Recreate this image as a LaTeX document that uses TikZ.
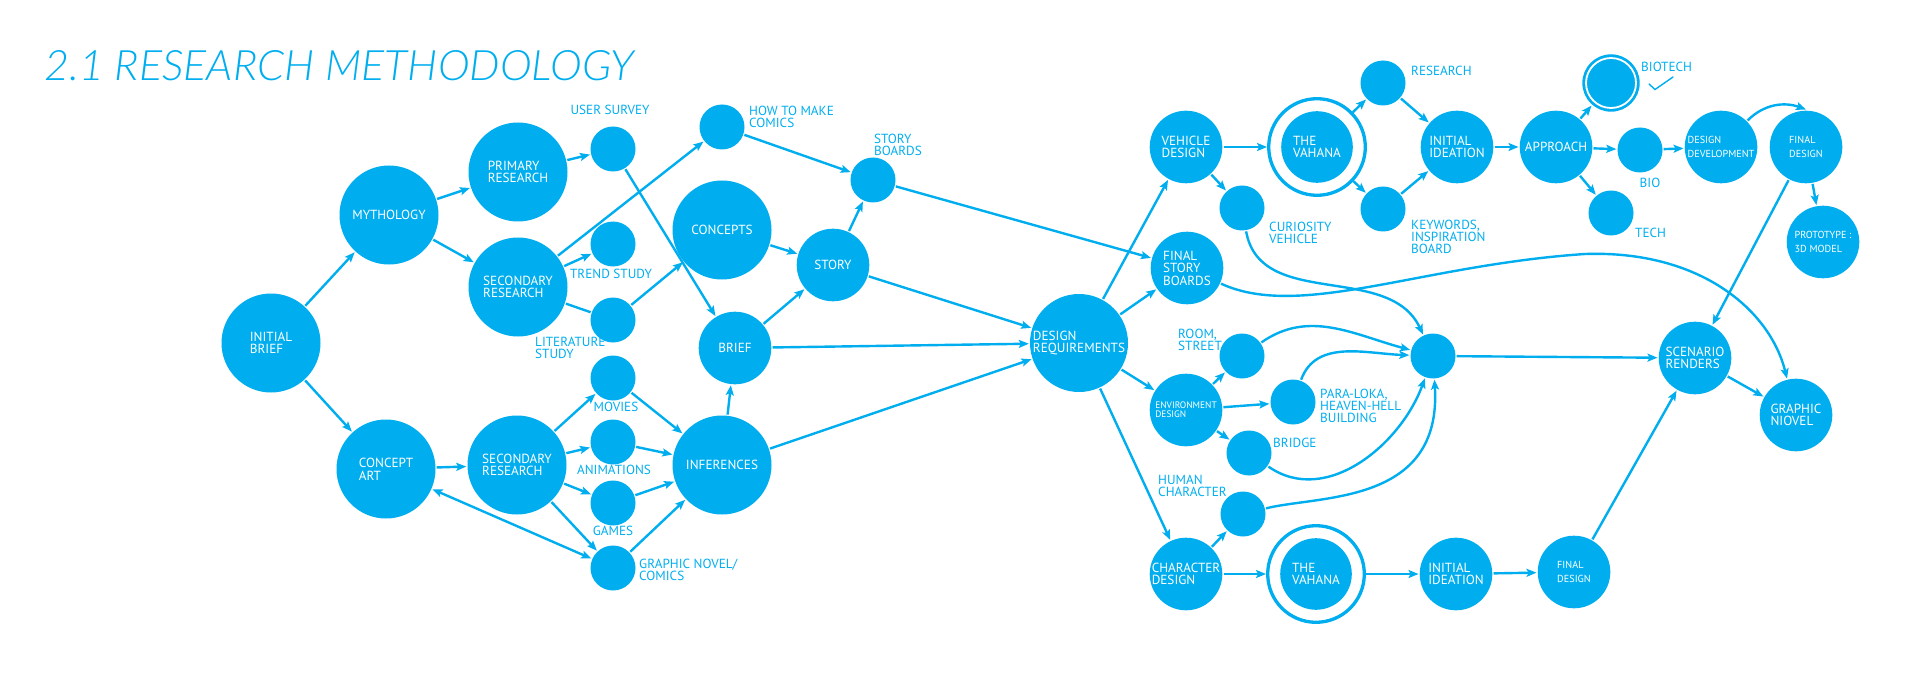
\documentclass[tikz,border=0pt]{standalone}
\usepackage{fontspec}
\usepackage{graphicx}
\setmainfont{PT Sans}
\IfFontExistsTF{Lato Light Italic}
  {\newfontfamily\titlefont{Lato Light Italic}}
  {\IfFontExistsTF{Fira Sans Light Italic}
    {\newfontfamily\titlefont{Fira Sans Light Italic}}
    {\IfFontExistsTF{Noto Sans Light Italic}
      {\newfontfamily\titlefont{Noto Sans Light Italic}}
      {\newfontfamily\titlefont{Open Sans}[FakeSlant=0.2]}}}
\usetikzlibrary{arrows.meta}
\definecolor{mblue}{RGB}{0,174,239}
\tikzset{
  bigbub/.style={circle, fill=mblue, text=white, minimum size=49.5pt, inner sep=-4pt,
    align=left, font=\fontsize{6.6}{6.3}\selectfont},
  midbub/.style={bigbub, minimum size=36.3pt},
  dotbub/.style={circle, fill=mblue, minimum size=22.5pt, inner sep=0pt},
  ringbub/.style={circle, draw=mblue, line width=1.65pt, minimum size=48.3pt, inner sep=0pt},
  smalltxt/.style={font=\fontsize{5.1}{6.7}\selectfont},
  lbl/.style={text=mblue, align=left, inner sep=0pt, font=\fontsize{6.6}{6.1}\selectfont},
}
\begin{document}
\begin{tikzpicture}[x=0.5pt, y=-0.5pt, line width=1.2pt, color=mblue,
  >={Stealth[length=5pt,width=4pt,inset=1pt]}]

  \useasboundingbox (0,0) rectangle (1920,679);
  \node[anchor=south west, inner sep=0pt] (title) at (43,82)
    {\resizebox{295pt}{15pt}{\titlefont 2.1 RESEARCH METHODOLOGY}};

  \node[bigbub] (ib) at (271,343) {INITIAL\\BRIEF};
  \node[bigbub] (myth) at (389,215) {MYTHOLOGY};
  \node[bigbub] (prim) at (518,172) {PRIMARY\\RESEARCH};
  \node[bigbub] (secA) at (518,287) {SECONDARY\\RESEARCH};
  \node[bigbub] (ca) at (386,469) {CONCEPT\\ART};
  \node[bigbub] (secB) at (517,465) {SECONDARY\\RESEARCH};
  \node[bigbub] (concepts) at (722,230) {CONCEPTS};
  \node[bigbub] (inf) at (722,465) {INFERENCES};
  \node[midbub] (story) at (833,265) {STORY};
  \node[midbub] (brief) at (735,348) {BRIEF};
  \node[bigbub, minimum size=49pt] (dr) at (1079,343) {DESIGN\\REQUIREMENTS};

  \node[dotbub] (survey) at (613,149) {};
  \node[dotbub] (trend) at (613,244) {};
  \node[dotbub] (lit) at (613,320) {};
  \node[dotbub] (howto) at (722,127) {};
  \node[dotbub] (sb) at (873,180) {};
  \node[dotbub] (movies) at (613,378) {};
  \node[dotbub] (anim) at (613,442) {};
  \node[dotbub] (games) at (613,503) {};
  \node[dotbub] (gnc) at (613,568) {};

  \node[lbl, anchor=center] (lsurvey) at (610,110) {USER SURVEY};
  \node[lbl, anchor=center] (ltrend) at (611,274) {TREND STUDY};
  \node[lbl, anchor=west] (llit) at (534,348) {LITERATURE\\STUDY};
  \node[lbl, anchor=west] (lhowto) at (748,117) {HOW TO MAKE\\COMICS};
  \node[lbl, anchor=west] (lsb) at (873,145) {STORY\\BOARDS};
  \node[lbl, anchor=center] (lmovies) at (616,407) {MOVIES};
  \node[lbl, anchor=center] (lanim) at (614,470) {ANIMATIONS};
  \node[lbl, anchor=center] (lgames) at (613,531) {GAMES};
  \node[lbl, anchor=west] (lgnc) at (638,570) {GRAPHIC NOVEL/\\COMICS};

  \node[midbub] (vd) at (1186,147) {VEHICLE\\DESIGN};
  \node[midbub] (fsb) at (1187,268) {FINAL\\STORY\\BOARDS};
  \node[midbub, smalltxt, font=\fontsize{4.7}{4.4}\selectfont] (env) at (1186,410) {ENVIRONMENT\\DESIGN};
  \node[midbub] (cd) at (1186,574) {CHARACTER\\DESIGN};
  \node[ringbub] (vahA) at (1317,147) {};
  \node[midbub, minimum size=35.8pt] (vahAin) at (1317,147) {THE\\VAHANA};
  \node[ringbub] (vahB) at (1316,574) {};
  \node[midbub, minimum size=35.8pt] (vahBin) at (1316,574) {THE\\VAHANA};
  \node[midbub] (iiA) at (1457,147) {INITIAL\\IDEATION};
  \node[midbub] (iiB) at (1456,574) {INITIAL\\IDEATION};
  \node[midbub] (appr) at (1556,147) {APPROACH};
  \node[midbub, smalltxt] (dd) at (1721,147) {DESIGN\\DEVELOPMENT};
  \node[midbub, smalltxt] (fdA) at (1806,147) {FINAL\\DESIGN};
  \node[midbub, smalltxt] (proto) at (1823,242) {PROTOTYPE :\\3D MODEL};
  \node[midbub, smalltxt] (fdB) at (1574,572) {FINAL\\DESIGN};
  \node[midbub] (sr) at (1695,358) {SCENARIO\\RENDERS};
  \node[midbub] (gn) at (1796,415) {GRAPHIC\\NIOVEL};

  \node[dotbub] (curi) at (1242,208) {};
  \node[dotbub] (res) at (1383,83) {};
  \node[dotbub] (kw) at (1383,209) {};
  \node[dotbub] (room) at (1242,356) {};
  \node[dotbub] (para) at (1293,402) {};
  \node[dotbub] (bridge) at (1249,453) {};
  \node[dotbub] (human) at (1243,514) {};
  \node[dotbub] (hub) at (1433,356) {};
  \node[dotbub] (bio) at (1640,150) {};
  \node[dotbub] (tech) at (1611,213) {};
  \node[dotbub, minimum size=28.7pt] (biotech) at (1611,83) {};
  \draw[white, line width=0.9pt] (biotech) circle[radius=25];
  \draw[line width=0.7pt, line cap=round] (1649,84) -- (1655,89.5) -- (1673,77);

  \node[lbl, anchor=west] (lcuri) at (1268,233) {CURIOSITY\\VEHICLE};
  \node[lbl, anchor=west] (lres) at (1410,71) {RESEARCH};
  \node[lbl, anchor=west] (lkw) at (1410,237) {KEYWORDS,\\INSPIRATION\\BOARD};
  \node[lbl, anchor=west] (lroom) at (1177,340) {ROOM,\\STREET};
  \node[lbl, anchor=west] (lpara) at (1319,406) {PARA-LOKA,\\HEAVEN-HELL\\BUILDING};
  \node[lbl, anchor=west] (lbridge) at (1272,443) {BRIDGE};
  \node[lbl, anchor=west] (lhuman) at (1157,486) {HUMAN\\CHARACTER};
  \node[lbl, anchor=west] (lbiotech) at (1640,67) {BIOTECH};
  \node[lbl, anchor=center] (lbio) at (1650,183) {BIO};
  \node[lbl, anchor=west] (ltech) at (1634,233) {TECH};

  \draw[->] (ib) -- (myth);
  \draw[->] (ib) -- (ca);
  \draw[->] (myth) -- (prim);
  \draw[->] (myth) -- (secA);
  \draw[->] (prim) -- (survey);
  \draw[->] (secA) -- (howto);
  \draw[->] (secA) -- (trend);
  \draw (secA) -- (lit);
  \draw[->] (survey) -- (brief);
  \draw[->] (lit) -- (concepts);
  \draw[->] (howto) -- (sb);
  \draw[->] (concepts) -- (story);
  \draw[->] (brief) -- (story);
  \draw[->] (story) -- (sb);
  \draw[->] (sb) -- (fsb);
  \draw[->] (story) -- (dr);
  \draw[->] (brief) -- (dr);
  \draw[->] (inf) -- (brief);
  \draw[->] (inf) -- (dr);
  \draw[->] (ca) -- (secB);
  \draw[<->] (ca) -- (gnc);
  \draw[->] (secB) -- (movies);
  \draw[->] (secB) -- (anim);
  \draw[->] (secB) -- (games);
  \draw[->] (secB) -- (gnc);
  \draw[->] (movies) -- (inf);
  \draw[->] (anim) -- (inf);
  \draw[->] (games) -- (inf);
  \draw[->] (gnc) -- (inf);

  \draw[->] (dr) -- (vd);
  \draw[->] (dr) -- (fsb);
  \draw[->] (dr) -- (env);
  \draw[->] (dr) -- (cd);
  \draw[->] (vd) -- (vahA);
  \draw[->] (vd) -- (curi);
  \draw[->] (vahA) -- (res);
  \draw[->] (vahA) -- (kw);
  \draw[->] (res) -- (iiA);
  \draw[->] (kw) -- (iiA);
  \draw[->] (iiA) -- (appr);
  \draw[->] (appr) -- (biotech);
  \draw[->] (appr) -- (bio);
  \draw[->] (appr) -- (tech);
  \draw[->] (bio) -- (dd);
  \draw[->] (dd) to[out=45,in=160] (fdA.north);
  \draw[->] (fdA) -- (proto);
  \draw[->] (fdA) -- (sr);
  \draw[->] (env) -- (room);
  \draw[->] (env) -- (para);
  \draw[->] (env) -- (bridge);
  \draw[->] (cd) -- (human);
  \draw[->] (cd) -- (vahB);
  \draw[->] (vahB) -- (iiB);
  \draw[->] (iiB) -- (fdB);
  \draw[->] (fdB) -- (sr);
  \draw[->] (hub) -- (sr);
  \draw[->] (sr) -- (gn);

  \draw[->] (curi) to[out=-80,in=115] (hub);
  \draw[->] (room) to[out=35,in=165] (hub);
  \draw[->] (para) to[out=70,in=178] (hub);
  \draw[->] (bridge) to[out=-35,in=-110] (hub);
  \draw[->] (human) .. controls (1320,495) and (1442,505) .. (hub);
  \coordinate (gnbend) at (1585,254);
  \draw[->] (fsb) .. controls (1300,320) and (1420,265) .. (gnbend)
    .. controls (1700,250) and (1770,310) .. (gn);
\end{tikzpicture}
\end{document}
